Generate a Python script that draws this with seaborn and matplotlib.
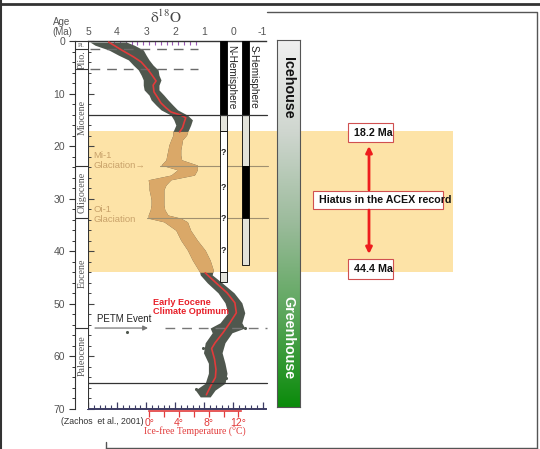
import numpy as np
import pandas as pd
import seaborn as sns
import matplotlib.pyplot as plt
from matplotlib.patches import Rectangle
from matplotlib.colors import LinearSegmentedColormap
from matplotlib.ticker import MultipleLocator

sns.set_theme(style="white")
plt.rcParams['font.family'] = ['Liberation Sans', 'DejaVu Sans']
plt.rcParams['mathtext.fontset'] = 'stix'

# ---------------------------------------------------------------- data
# benthic d18O cloud: age (Ma) and left (heavy) / right (light) edge
cloud_age = [0.2, 0.8, 1.7, 2.7, 3.6, 4.6, 5.5, 6.5, 7.4, 8.4,
             9.3, 10.3, 11.2, 12.2, 13.1, 14.1, 15.0, 16.0, 16.9, 17.2, 17.9,
             18.8, 19.8, 20.7, 21.7, 22.6, 23.6, 24.5, 25.5, 26.4, 27.4,
             28.3, 29.3, 30.2, 31.2, 32.1, 33.1, 33.7, 34.4, 36.0, 37.9,
             39.8, 41.7, 43.6, 44.0, 44.5, 46.0, 47.9, 49.8, 51.7, 53.6, 54.6,
             55.5, 57.4, 59.3, 61.3, 63.2, 65.1, 66.4, 67.7]
cloud_hi = [4.93, 4.76, 4.29, 3.95, 3.61, 3.44, 3.27, 3.17, 3.10, 3.10,
            3.07, 2.90, 2.83, 2.66, 2.49, 2.15, 2.05, 1.98, 2.05, 2.08, 2.08,
            2.15, 2.22, 2.25, 2.29, 2.32, 2.49, 1.92, 2.15, 2.93, 2.90,
            2.90, 2.86, 2.83, 2.83, 2.86, 2.93, 2.93, 2.39, 1.98, 1.81,
            1.58, 1.41, 1.20, 1.16, 1.14, 0.90, 0.53, 0.29, 0.19, 0.46, 0.80,
            0.73, 0.97, 1.03, 0.86, 0.86, 0.97, 1.31, 1.14]
cloud_lo = [3.68, 3.41, 3.10, 3.00, 2.90, 2.76, 2.59, 2.56, 2.49, 2.56,
            2.56, 2.39, 2.25, 2.08, 1.92, 1.58, 1.41, 1.47, 1.54, 1.57, 1.61,
            1.75, 1.78, 1.81, 1.81, 1.78, 1.24, 1.24, 1.34, 2.15, 2.32,
            2.39, 2.39, 2.39, 2.39, 2.36, 2.25, 1.81, 1.58, 1.47, 1.24,
            0.97, 0.80, 0.69, 0.71, 0.73, 0.39, -0.02, -0.29, -0.39, -0.29, -0.39,
            0.05, 0.29, 0.39, 0.29, 0.22, 0.29, 0.63, 0.80]

# smoothed curve, only outside the ACEX hiatus
red_age_a = [0.2, 1.7, 3.0, 4.0, 5.5, 6.8, 7.6, 8.4, 9.7, 10.8, 11.8, 12.7,
             13.5, 14.1, 14.6, 15.6, 16.5, 17.3]
red_d18o_a = [4.29, 3.85, 3.44, 3.17, 2.93, 2.76, 2.66, 2.76, 2.73, 2.60, 2.49,
              2.32, 2.15, 1.81, 1.64, 1.70, 1.75, 1.85]
red_age_b = [44.1, 46.0, 47.9, 49.8, 51.7, 53.6, 55.5, 57.4, 58.5, 60.5, 62.5,
             64.0, 65.5, 67.3]
red_d18o_b = [0.97, 0.60, 0.22, -0.05, -0.10, 0.12, 0.36, 0.63, 0.75, 0.65,
              0.60, 0.62, 0.77, 0.93]

# stray points
dot_age = [66.2, 66.3, 64.1, 62.6, 50.8, 54.6, 58.4, 55.4]
dot_d18o = [1.29, 1.12, 0.27, 0.37, -0.24, -0.41, 1.05, 3.67]

# ice-sheet bars: start / end age and fill
nh_start = [0.0, 14.0, 17.2, 44.0]
nh_end = [14.0, 17.2, 44.0, 45.8]
nh_fill = ['black', '#e4e4dc', 'white', '#e4e4dc']
sh_start = [0.0, 14.0, 23.8, 33.7]
sh_end = [14.0, 23.8, 33.7, 42.6]
sh_fill = ['black', '#e2e2da', 'black', '#e2e2da']
qmark_age = [21.3, 27.8, 33.7, 39.8]

epoch_name = ['Plio.', 'Miocene', 'Oligocene', 'Eocene', 'Paleocene']
epoch_top = [1.6, 5.3, 23.8, 33.7, 54.6]
epoch_bot = [5.3, 23.8, 33.7, 54.6, 65.1]

hiatus = (17.2, 44.0)
age_ticks = [0, 10, 20, 30, 40, 50, 60, 70]
d18o_ticks = [5, 4, 3, 2, 1, 0, -1]
temp_ticks = [0, 4, 8, 12]

# ---------------------------------------------------------------- layout
W, H = 540, 449
fig = plt.figure(figsize=(W / 100, H / 100), dpi=100)


def box(x0, y0, x1, y1):
    return [x0 / W, 1 - y1 / H, (x1 - x0) / W, (y1 - y0) / H]


AX_L, AX_R = 88, 266


def fx(px):  # pixel x -> main-axes fraction
    return (px - AX_L) / (AX_R - AX_L)


ax = fig.add_axes(box(AX_L, 41, AX_R, 409))
ax_ep = fig.add_axes(box(75, 41, 88, 409))
ax_g = fig.add_axes(box(277, 40, 300, 407))
ov = fig.add_axes([0, 0, 1, 1])
ov.set_xlim(0, W)
ov.set_ylim(H, 0)
ov.axis('off')

GRAY = '#4f574e'
TAN = '#daa868'
RED = '#e23b3b'
YTAN = '#c9a26a'

# hiatus band (runs out to the right panel)
ax.axhspan(*hiatus, xmin=0, xmax=fx(453), fc='#fde3a7', ec='none',
           zorder=0.5, clip_on=False)

# data cloud
age = np.array(cloud_age)
ax.fill_betweenx(cloud_age, cloud_hi, cloud_lo, color=GRAY, lw=0, zorder=2)
inside = (age >= hiatus[0]) & (age <= hiatus[1])
ax.fill_betweenx(cloud_age, cloud_hi, cloud_lo, where=inside, color=TAN,
                 lw=0, zorder=2.1)
sns.scatterplot(x=dot_d18o, y=dot_age, color=GRAY, s=5, linewidth=0,
                ax=ax, zorder=2)

red = pd.DataFrame({
    'd18o': red_d18o_a + red_d18o_b,
    'age': red_age_a + red_age_b,
    'piece': ['a'] * len(red_age_a) + ['b'] * len(red_age_b),
})
sns.lineplot(data=red, x='d18o', y='age', units='piece', estimator=None,
             sort=False, color=RED, lw=1.2, ax=ax, zorder=3)

# hemisphere ice bars
for starts, ends, fills, x0, x1 in [(nh_start, nh_end, nh_fill, 0.476, 0.238),
                                    (sh_start, sh_end, sh_fill, -0.306, -0.544)]:
    for a0, a1, fc in zip(starts, ends, fills):
        ax.add_patch(Rectangle((x1, a0), x0 - x1, a1 - a0, fc=fc, ec='black',
                               lw=0.6, zorder=3))
for a in qmark_age:
    ax.text(0.34, a, '?', ha='center', va='center', fontsize=6.5,
            weight='bold', color='#222', zorder=4)
ax.text(0.07, 0.7, 'N-Hemisphere', rotation=-90, ha='center', va='top',
        fontsize=7.2, color='#222', zorder=4)
ax.text(-0.69, 0.7, 'S-Hemisphere', rotation=-90, ha='center', va='top',
        fontsize=7.2, color='#222', zorder=4)

# horizontal markers
ytr = ax.get_yaxis_transform()
for a in (14.0, 65.1):
    ax.plot([fx(75), fx(267)], [a, a], transform=ytr, color='#333', lw=0.9,
            clip_on=False, zorder=3)
for a in (1.6, 5.3):
    ax.plot([fx(90), fx(198)], [a, a], transform=ytr, color='#6a6a6a', lw=1.0,
            dashes=(7, 5), clip_on=False, zorder=2.5)
ax.plot([fx(160), fx(268)], [23.8, 23.8], transform=ytr, color='#a09070',
        lw=0.8, clip_on=False, zorder=2.5)
ax.plot([fx(147), fx(268)], [33.7, 33.7], transform=ytr, color='#a09070',
        lw=0.8, clip_on=False, zorder=2.5)
ax.plot([fx(165), fx(267)], [54.6, 54.6], transform=ytr, color='#777', lw=1.0,
        dashes=(7, 5), clip_on=False, zorder=2.5)
ax.annotate('', xy=(fx(148), 54.6), xytext=(fx(95), 54.6), xycoords=ytr,
            arrowprops=dict(arrowstyle='-|>', color='#777', lw=0.9,
                            mutation_scale=7, shrinkA=0, shrinkB=0))

# axes limits / ticks
ax.set_xlim(4.93, -1.12)
ax.set_ylim(70, 0)
ax.set_xlabel('')
ax.set_ylabel('')
ax.spines['right'].set_visible(False)
ax.spines['left'].set_color('#333')
ax.spines['left'].set_linewidth(0.8)
ax.spines['top'].set_color('#333')
ax.spines['top'].set_linewidth(1.0)
ax.spines['bottom'].set_color('#3c3c64')
ax.spines['bottom'].set_linewidth(1.4)
ax.set_xticks(d18o_ticks)
ax.xaxis.set_minor_locator(MultipleLocator(0.2))
ax.tick_params(axis='x', which='both', bottom=True, top=False, direction='in',
               color='#3c3c64', labelbottom=False, labeltop=False)
ax.tick_params(axis='x', which='major', length=5, width=0.9)
ax.tick_params(axis='x', which='minor', length=3, width=0.8)
ax.set_yticks(age_ticks)
ax.yaxis.set_minor_locator(MultipleLocator(2))
ax.tick_params(axis='y', which='both', left=True, direction='in',
               color='#444', labelleft=False)
ax.tick_params(axis='y', which='major', length=4, width=0.8)
ax.tick_params(axis='y', which='minor', length=2.5, width=0.7)

top = ax.secondary_xaxis('top')
top.set_xticks(d18o_ticks, labels=[str(t) for t in d18o_ticks])
top.set_xticks(np.arange(1.3, 4.4, 0.2), minor=True)
top.spines['top'].set_visible(False)
top.tick_params(axis='x', which='major', length=0, pad=3, labelsize=7.5,
                labelcolor='#555')
top.tick_params(axis='x', which='minor', direction='in', length=3,
                color='#9b59b6', width=0.8)


def d2t(d):
    return 3.92 * (2.89 - d)


def t2d(t):
    return 2.89 - t / 3.92


temp = ax.secondary_xaxis(-0.005, functions=(d2t, t2d))
temp.set_xticks(temp_ticks, labels=[f'{t}°' for t in temp_ticks])
temp.set_xticks([2, 6, 10], minor=True)
temp.spines['bottom'].set_bounds(0, 12.3)
temp.spines['bottom'].set_color(RED)
temp.spines['bottom'].set_linewidth(1.2)
temp.tick_params(axis='x', which='both', direction='out', length=4,
                 color=RED, width=0.9, labelsize=7.5, labelcolor=RED, pad=1.5)

# epoch column
ax_ep.set_xlim(0, 1)
ax_ep.set_ylim(70, 0)
ax_ep.set_xticks([])
ax_ep.set_yticks(age_ticks, labels=[str(t) for t in age_ticks])
ax_ep.yaxis.set_minor_locator(MultipleLocator(2))
ax_ep.tick_params(axis='y', which='both', left=True, direction='out',
                  color='#333', labelsize=7.5, labelcolor='#555', pad=3)
ax_ep.tick_params(axis='y', which='major', length=4, width=0.8)
ax_ep.tick_params(axis='y', which='minor', length=2, width=0.7)
ax_ep.spines['bottom'].set_visible(False)
ax_ep.spines['right'].set_visible(False)
for s in ('left', 'top'):
    ax_ep.spines[s].set_color('#333')
    ax_ep.spines[s].set_linewidth(0.8)
for a in (1.6, 5.3, 23.8, 33.7, 54.6):
    ax_ep.axhline(a, color='#333', lw=0.8)
for name, a0, a1 in zip(epoch_name, epoch_top, epoch_bot):
    ax_ep.text(0.55, (a0 + a1) / 2, name, rotation=90, ha='center',
               va='center', fontsize=7.2, color='#555',
               family=['Liberation Serif', 'DejaVu Serif'])
ax_ep.text(0.5, 0.8, 'Pl.', ha='center', va='center', fontsize=4.5,
           color='#555', family=['Liberation Serif', 'DejaVu Serif'])

# icehouse / greenhouse bar
cmap = LinearSegmentedColormap.from_list(
    'ice', ['#f0f0f0', '#cfd6cf', '#9bbb9b', '#5aa65a', '#0b8b0b'])
ax_g.imshow(np.linspace(0, 1, 256).reshape(-1, 1), aspect='auto', cmap=cmap,
            extent=[0, 1, 1, 0])
ax_g.set_xticks([])
ax_g.set_yticks([])
for s in ax_g.spines.values():
    s.set_color('#555')
    s.set_linewidth(0.8)

# ------------------------------------------------------------- annotations
ov.text(62, 27, 'Age\n(Ma)', ha='center', va='center', fontsize=7,
        color='#555', linespacing=0.95)
ov.text(166, 17, r'$\mathrm{\delta^{18}O}$', ha='center', va='center',
        fontsize=11, color='#444')
ov.text(93, 155, 'Mi-1', fontsize=6.8, color=YTAN, va='center')
ov.text(93, 166, 'Glaciation\u2192', fontsize=6.8, color=YTAN, va='center')
ov.text(94, 209, 'Oi-1', fontsize=6.8, color=YTAN, va='center')
ov.text(94, 220, 'Glaciation', fontsize=6.8, color=YTAN, va='center')
ov.text(97, 319, 'PETM Event', fontsize=7, color='#222', va='center')
ov.text(153, 307, 'Early Eocene\nClimate Optimum', fontsize=6.6,
        weight='bold', color='#e8202a', va='center', linespacing=1.0)
ov.text(144, 421, '(Zachos  et al., 2001)', fontsize=6.3, color='#333',
        ha='right', va='center')
ov.text(195, 432, 'Ice-free Temperature (°C)', fontsize=7, color=RED,
        ha='center', va='center', family=['Liberation Serif', 'DejaVu Serif'])

ov.text(288, 88, 'Icehouse', rotation=-90, ha='center', va='center',
        fontsize=10.3, weight='bold', color='#111')
ov.text(288, 338, 'Greenhouse', rotation=-90, ha='center', va='center',
        fontsize=10.3, weight='bold', color='white')

for (x0, y0, w, h) in [(348, 123, 45, 19), (313, 191, 130, 18),
                       (348, 259, 45, 20)]:
    ov.add_patch(Rectangle((x0, y0), w, h, fc='white', ec='#d05050', lw=0.8))
ov.text(373, 133, '18.2 Ma', ha='center', va='center', fontsize=7.7,
        weight='bold', color='#111')
ov.text(373, 269, '44.4 Ma', ha='center', va='center', fontsize=7.7,
        weight='bold', color='#111')
ov.text(319, 200, 'Hiatus in the ACEX record', ha='left', va='center',
        fontsize=7.7, weight='bold', color='#111')
for y0, y1 in [(190, 146), (210, 254)]:
    ov.annotate('', xy=(369, y1), xytext=(369, y0),
                arrowprops=dict(arrowstyle='-|>', color='#ee1c1c', lw=2,
                                mutation_scale=9, shrinkA=0, shrinkB=0))

# slide frame remnants
ov.plot([0, W], [3.5, 3.5], color='#333', lw=2)
ov.plot([1, 1], [0, H], color='#333', lw=1.5)
ov.plot([267, 537, 537], [12, 12, H], color='#555', lw=1)
ov.plot([106, 106], [442, H], color='#555', lw=1)
ov.plot([106, 537], [447.5, 447.5], color='#555', lw=1)

fig.savefig('out.png', dpi=100)
